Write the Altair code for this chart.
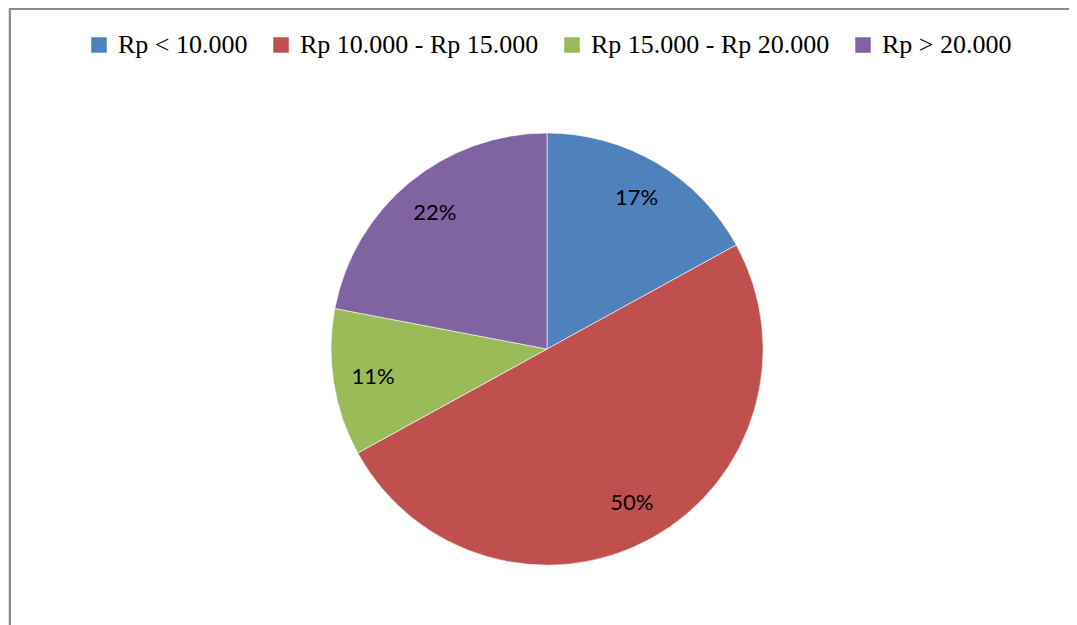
import altair as alt
import pandas as pd

categories = ["Rp < 10.000", "Rp 10.000 - Rp 15.000", "Rp 15.000 - Rp 20.000", "Rp > 20.000"]
values = [17, 50, 11, 22]
colors = ["#4F81BD", "#C0504D", "#9BBB59", "#8064A2"]
labels = ["17%", "50%", "11%", "22%"]

df = pd.DataFrame({
    "cat": categories,
    "val": values,
    "label": labels,
    "order": list(range(len(categories))),
})

CX, CY, R = 539, 341, 216

base = alt.Chart(df).encode(
    theta=alt.Theta("val:Q", stack=True),
    order=alt.Order("order:Q"),
)

pie = base.mark_arc(radius=R, stroke="white", strokeWidth=0.6).encode(
    x=alt.value(CX),
    y=alt.value(CY),
    color=alt.Color(
        "cat:N",
        scale=alt.Scale(domain=categories, range=colors),
        sort=categories,
        legend=alt.Legend(
            title=None,
            orient="none",
            direction="horizontal",
            legendX=78,
            legendY=24,
            symbolType="square",
            symbolSize=240,
            symbolStrokeWidth=0,
            labelFont="Liberation Serif",
            labelFontSize=26,
            labelColor="black",
            labelOffset=6,
            columnPadding=20,
            labelLimit=400,
        ),
    ),
)

text = base.mark_text(radius=176, font="Lato", fontSize=22, color="black", baseline="middle").encode(
    x=alt.value(CX),
    y=alt.value(CY),
    text="label:N",
)

border_df = pd.DataFrame({"a": [0]})
top_line = alt.Chart(border_df).mark_rule(color="#8c8c8c", strokeWidth=2).encode(
    x=alt.value(2), x2=alt.value(1061), y=alt.value(1)
)
left_line = alt.Chart(border_df).mark_rule(color="#8c8c8c", strokeWidth=2).encode(
    x=alt.value(2), y=alt.value(0), y2=alt.value(617)
)

chart = alt.layer(top_line, left_line, pie, text).properties(
    width=1061, height=617, autosize=alt.AutoSizeParams(type="none"), padding=0
).configure_view(stroke=None).configure(background="white")

chart.save("out.html", embed_options={"renderer": "svg", "actions": False})
